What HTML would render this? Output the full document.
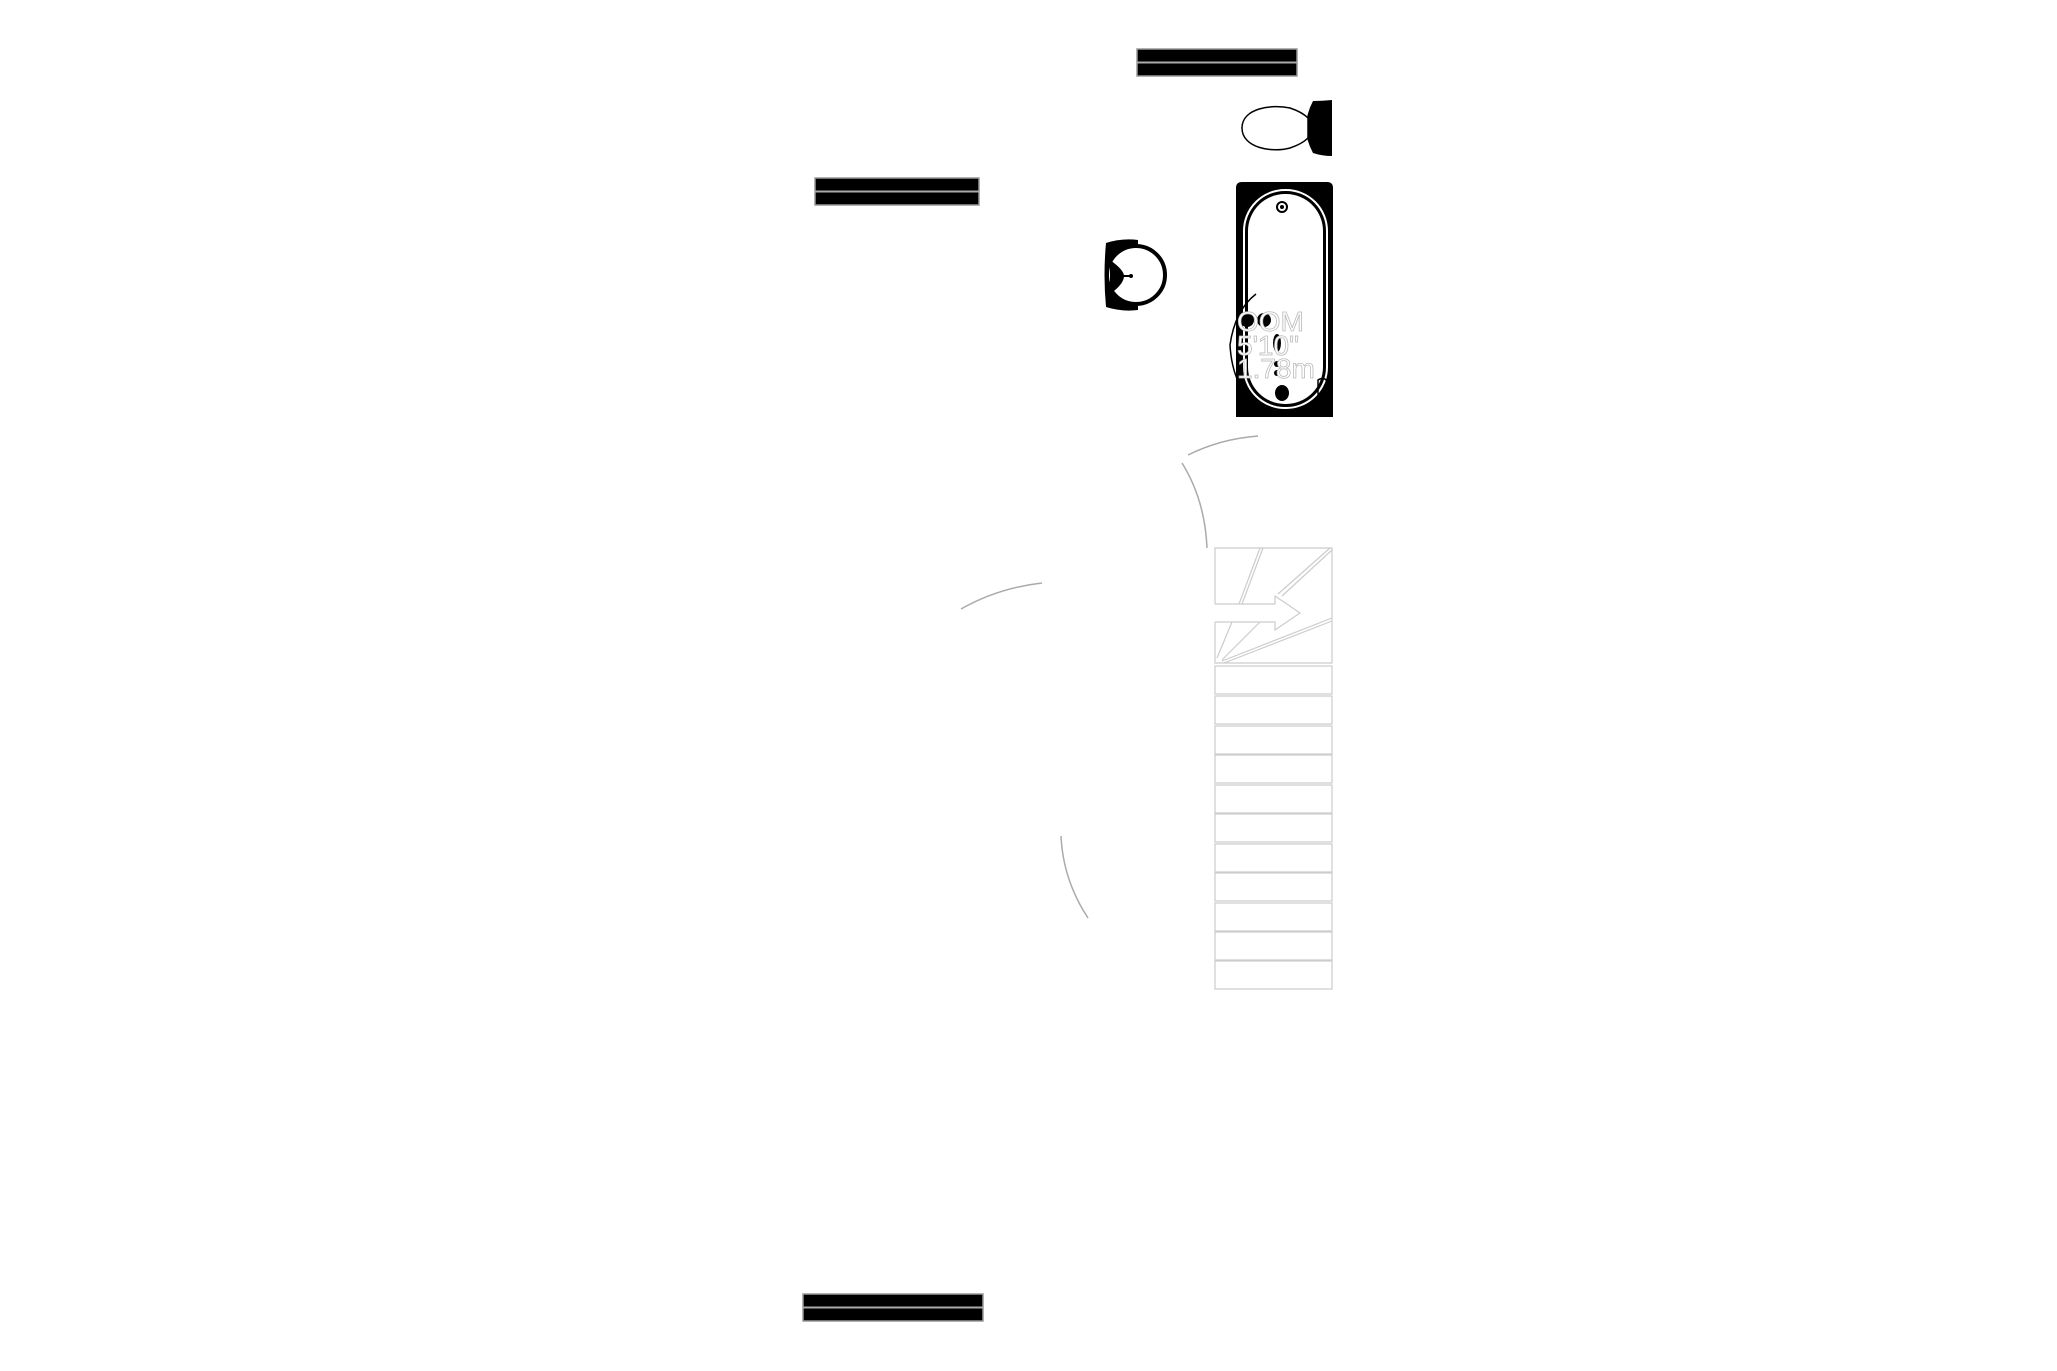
<!DOCTYPE html>
<html><head><meta charset="utf-8"><style>
html,body{margin:0;padding:0;background:#fff;}
svg{display:block;}
</style></head><body>
<svg width="2057" height="1371" viewBox="0 0 2057 1371" xmlns="http://www.w3.org/2000/svg">
<rect width="2057" height="1371" fill="#fff"/>
<g>
<rect x="1137" y="49" width="160" height="27" fill="#000" stroke="#999" stroke-width="1.5"/>
<line x1="1137" y1="62.5" x2="1297" y2="62.5" stroke="#aaa" stroke-width="2"/>
<rect x="815" y="178" width="164" height="27" fill="#000" stroke="#999" stroke-width="1.5"/>
<line x1="815" y1="191.5" x2="979" y2="191.5" stroke="#aaa" stroke-width="2"/>
<rect x="803" y="1294" width="180" height="27" fill="#000" stroke="#999" stroke-width="1.5"/>
<line x1="803" y1="1307.5" x2="983" y2="1307.5" stroke="#aaa" stroke-width="2"/>
</g>
<!-- toilet -->
<path d="M1313 101 Q1322 101 1332 100 L1332 156 Q1322 156 1313 153 Q1306 140 1306 128 Q1306 114 1313 101Z" fill="#000"/>
<path d="M1242 128 C1242 108 1272 104 1290 108 Q1302 112 1308 118 L1308 138 Q1302 144 1290 148 C1272 153 1242 148 1242 128Z" fill="#fff" stroke="#000" stroke-width="1.5"/>
<!-- tub -->
<path d="M1236 417 L1236 188 Q1236 182 1242 182 L1327 182 Q1333 182 1333 188 L1333 417Z" fill="#000"/>
<rect x="1244" y="190" width="83" height="218" rx="41" fill="none" stroke="#fff" stroke-width="2"/>
<rect x="1248" y="194" width="75" height="210" rx="37" fill="#fff"/>
<circle cx="1282" cy="207" r="5" fill="none" stroke="#000" stroke-width="2"/>
<circle cx="1282" cy="207" r="2" fill="#000"/>
<ellipse cx="1282" cy="393" rx="7" ry="8" fill="#000"/>
<circle cx="1247" cy="320" r="7" fill="#000"/>
<circle cx="1264" cy="320" r="7" fill="#000"/>
<ellipse cx="1277" cy="343" rx="4" ry="9" fill="#000"/>
<circle cx="1277" cy="364" r="3" fill="#000"/>
<circle cx="1277" cy="373" r="3" fill="#000"/>
<g font-family="Liberation Sans, sans-serif" font-size="28" fill="#fff" stroke="#bbb" stroke-width="0.8">
<text x="1237" y="331">OOM</text>
<text x="1237" y="355">5'10"</text>
<text x="1237" y="378">1.78m</text>
</g>
<path d="M1256 294 Q1235 310 1230 345 Q1232 380 1250 400" fill="none" stroke="#000" stroke-width="1.5"/>
<path d="M1318 380 q6 -4 10 2 l-2 12 q-4 4 -8 0z" fill="none" stroke="#000" stroke-width="1.5"/>
<!-- sink -->
<path d="M1106 243 Q1122 238 1138 240 L1138 310 Q1122 312 1106 307 Q1103 275 1106 243Z" fill="#000"/>
<circle cx="1136" cy="275" r="29" fill="#fff" stroke="#000" stroke-width="4"/>
<path d="M1110 260 Q1124 270 1124 276 Q1124 284 1110 294 L1110 260Z" fill="#000"/>
<line x1="1114" y1="276" x2="1131" y2="276" stroke="#000" stroke-width="2"/>
<circle cx="1131" cy="276" r="2" fill="#000"/>
<!-- arcs -->
<g fill="none" stroke="#aaa" stroke-width="1.5">
<path d="M1188 455 Q1220 439 1258 436"/>
<path d="M1182 463 Q1205 500 1207 548"/>
<path d="M961 609 Q998 588 1042 583"/>
<path d="M1061 836 Q1063 880 1088 918"/>
</g>
<!-- stack -->
<g fill="none" stroke="#ccc" stroke-width="1.2">
<path d="M1215 604 L1215 548 L1332 548 L1332 663 L1215 663 L1215 622"/>
<path d="M1215 604 L1275 604 L1275 596 L1300 613 L1275 630 L1275 622 L1215 622"/>
<line x1="1260" y1="548" x2="1239" y2="604"/>
<line x1="1263" y1="548" x2="1242" y2="604"/>
<line x1="1332" y1="550" x2="1282" y2="596"/>
<line x1="1330" y1="548" x2="1278" y2="594"/>
<line x1="1232" y1="622" x2="1217" y2="658"/>
<line x1="1260" y1="622" x2="1222" y2="660"/>
<line x1="1332" y1="618" x2="1222" y2="661"/>
<line x1="1332" y1="621" x2="1224" y2="663"/>
<rect x="1215" y="666" width="117" height="28"/>
<rect x="1215" y="696" width="117" height="28"/>
<rect x="1215" y="726" width="117" height="28"/>
<rect x="1215" y="755" width="117" height="28"/>
<rect x="1215" y="785" width="117" height="28"/>
<rect x="1215" y="814" width="117" height="28"/>
<rect x="1215" y="844" width="117" height="28"/>
<rect x="1215" y="873" width="117" height="28"/>
<rect x="1215" y="903" width="117" height="28"/>
<rect x="1215" y="932" width="117" height="28"/>
<rect x="1215" y="961" width="117" height="28"/>
</g>
</svg>
</body></html>
